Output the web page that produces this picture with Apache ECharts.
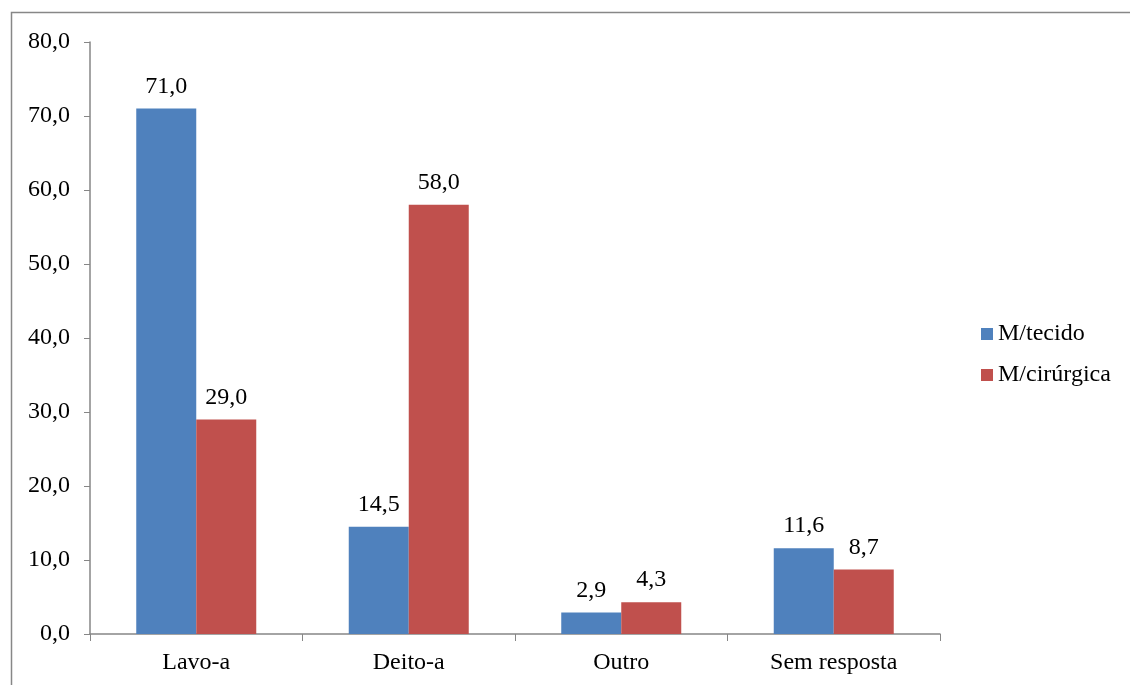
<!DOCTYPE html>
<html><head><meta charset="utf-8">
<script src="https://cdn.jsdelivr.net/npm/echarts@6/dist/echarts.min.js"></script>
<style>html,body{margin:0;padding:0;background:#fff}#c{width:1130px;height:685px}</style>
</head><body><div id="c"></div>
<script>
const categories = ['Lavo-a', 'Deito-a', 'Outro', 'Sem resposta'];
const tecido = [71.0, 14.5, 2.9, 11.6];
const cirurgica = [29.0, 58.0, 4.3, 8.7];
const seriesNames = ['M/tecido', 'M/cirúrgica'];
const fmt = v => Number(v).toFixed(1).replace('.', ',');
const font = "'Liberation Serif', serif";
const fs = 24;
const chart = echarts.init(document.getElementById('c'));
const lbl = {show: true, position: 'top', distance: 10, color: '#000', fontFamily: font, fontSize: fs, formatter: p => fmt(p.value)};
chart.setOption({
  animation: false,
  graphic: [{type: 'rect', shape: {x: 11.5, y: 12.5, width: 1200, height: 800}, style: {fill: 'none', stroke: '#878787', lineWidth: 1.5}, silent: true}],
  grid: {left: 90, right: 190, top: 42, bottom: 51},
  legend: {orient: 'vertical', left: 976, top: 317, itemWidth: 12, itemHeight: 12, itemGap: 17,
    textStyle: {fontFamily: font, fontSize: fs, color: '#000'}, icon: 'rect', data: seriesNames},
  xAxis: {type: 'category', data: categories,
    axisLine: {lineStyle: {color: '#868686', width: 1.5}},
    axisTick: {show: true, length: 7, lineStyle: {color: '#868686'}},
    axisLabel: {color: '#000', fontFamily: font, fontSize: fs, margin: 17}},
  yAxis: {type: 'value', min: 0, max: 80, interval: 10,
    axisLine: {show: true, lineStyle: {color: '#868686', width: 1.5}},
    axisTick: {show: true, length: 6, lineStyle: {color: '#868686'}},
    splitLine: {show: false},
    axisLabel: {color: '#000', fontFamily: font, fontSize: fs, margin: 20, formatter: v => fmt(v)}},
  series: [
    {name: seriesNames[0], type: 'bar', data: tecido, barWidth: 60, barGap: '0%', itemStyle: {color: '#4F81BD'}, label: lbl},
    {name: seriesNames[1], type: 'bar', data: cirurgica, barWidth: 60, barGap: '0%', itemStyle: {color: '#C0504D'}, label: lbl}
  ]
});
</script></body></html>
